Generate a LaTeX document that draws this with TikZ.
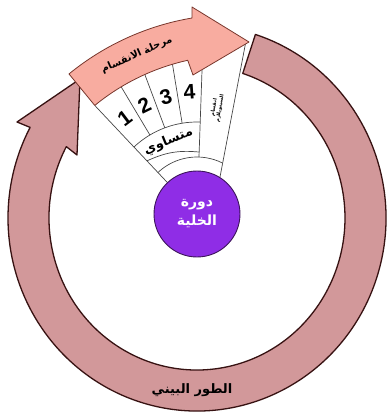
\documentclass[tikz,border=0pt]{standalone}
\usepackage{fontspec}
\newfontfamily\arabicfont[Script=Arabic]{DejaVu Sans}
\newfontfamily\digitfont{Liberation Sans}
\TeXXeTstate=1
\usetikzlibrary{calc}
\definecolor{ringfill}{RGB}{210,152,154}
\definecolor{ringline}{RGB}{55,18,18}
\definecolor{bandfill}{RGB}{248,172,160}
\definecolor{bandline}{RGB}{120,55,45}
\definecolor{cellfill}{RGB}{143,45,230}
\definecolor{cellline}{RGB}{60,20,90}
\definecolor{fangray}{RGB}{70,70,70}
\begin{document}
\begin{tikzpicture}[x=1pt,y=1pt,
  ringsty/.style={fill=ringfill,draw=ringline,line width=1.3pt,line join=round},
  bandsty/.style={fill=bandfill,draw=bandline,line width=0.8pt,line join=round},
  fanline/.style={draw=fangray,line width=0.7pt},
  digit/.style={font=\digitfont\bfseries\fontsize{21}{21}\selectfont,inner sep=0pt},
  artext/.style={font=\arabicfont\bfseries\fontsize{#1}{#1}\selectfont,inner sep=0pt,align=center},
  artext/.default=11]
\useasboundingbox (0,0) rectangle (390,416);
\coordinate (RC) at (197,198);
\coordinate (Q) at (236,138);
\coordinate (F) at (197,202);

% interphase ring with its arrow head
\draw[ringsty] ([shift={(72:189pt and 193pt)}]RC)
  arc[start angle=72,end angle=-208,x radius=189pt,y radius=193pt]
  -- (17,294) -- (80,337) -- (77,261)
  -- ([shift={(152:148pt and 152pt)}]RC)
  arc[start angle=-208,end angle=72,x radius=148pt,y radius=152pt] -- cycle;

% fan
\coordinate (bandBL) at ([shift={(129.3:223pt)}]Q);
\coordinate (L5top) at (245.5,372.5);
\coordinate (L5bot) at (220,239);
\draw[fanline] (bandBL) -- (F);
\draw[fanline] ($(F)+(120.8:155pt)$) -- ($(F)+(120.8:92pt)$);
\draw[fanline] ($(F)+(110.5:155pt)$) -- ($(F)+(110.5:92pt)$);
\draw[fanline] ($(F)+(99.3:155pt)$) -- ($(F)+(99.3:92pt)$);
\draw[fanline] ($(F)+(88:150pt)$) -- ($(F)+(88:57pt)$);
\draw[fanline] (L5top) -- (L5bot);
\draw[fanline] ($(F)+(133.3:92pt)$) arc[start angle=133.3,end angle=88,radius=92pt];
\draw[fanline] ($(F)+(133.3:73pt)$) to[bend left=15] ($(F)+(88:62pt)$);
\draw[fanline] ($(F)+(133.3:57pt)$) arc[start angle=133.3,end angle=63.5,radius=57pt];

\node[digit,rotate=37] (d1) at ($(F)+(127:120pt)$) {1};
\node[digit,rotate=26] (d2) at ($(F)+(115.7:121pt)$) {2};
\node[digit,rotate=15] (d3) at ($(F)+(104.9:121pt)$) {3};
\node[digit,rotate=4] (d4) at ($(F)+(93.6:122pt)$) {4};
\node[artext=13,rotate=22] (mitosis) at ($(F)+(111.5:78pt)$) {\beginR متساوي\endR};
\node[artext=5,rotate=80] (cyto) at (217,308) {\beginR انقسام\endR\\\beginR السيتوبلازم\endR};

% division phase arrow
\draw[bandsty] ([shift={(129.3:263.7pt)}]Q)
  arc[start angle=129.3,end angle=99.6,radius=263.7pt]
  -- (192,409) -- (249,374) -- (193,341)
  -- ([shift={(102.5:223pt)}]Q)
  arc[start angle=102.5,end angle=129.3,radius=223pt] -- cycle;
\node[artext=10,rotate=24] (division) at ($(Q)+(114:244pt)$) {\beginR مرحلة الانقسام\endR};

% cell cycle centre
\node[circle,fill=cellfill,draw=cellline,line width=0.9pt,minimum size=86pt,
  artext=14,text=white] (cell) at (F) {\beginR دورة\endR\\[4pt]\beginR الخلية\endR};

% interphase label
\node[artext=13] (interphase) at (192,26) {\beginR الطور البيني\endR};
\end{tikzpicture}
\end{document}
